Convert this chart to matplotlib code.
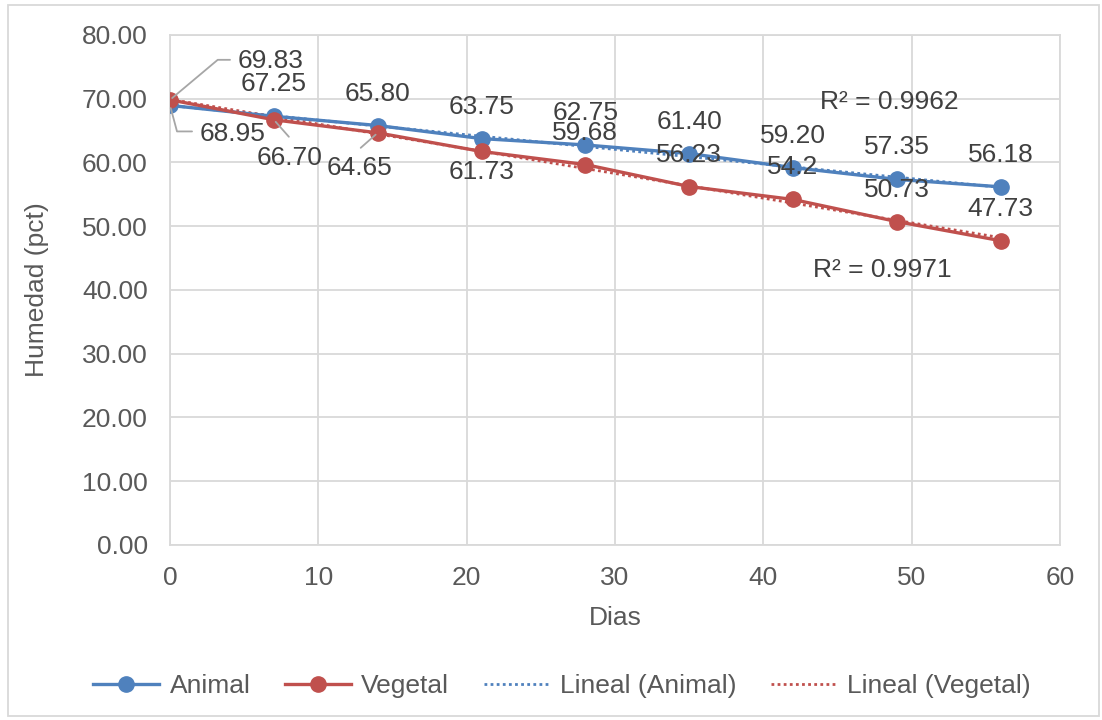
import matplotlib
matplotlib.use("Agg")
import matplotlib.pyplot as plt
import numpy as np
from matplotlib.patches import Rectangle

plt.rcParams["font.family"] = ["Liberation Sans", "DejaVu Sans"]

# ---------------------------------------------------------------------------
# Data
# ---------------------------------------------------------------------------

dias = [0, 7, 14, 21, 28, 35, 42, 49, 56]
animal = [68.95, 67.25, 65.80, 63.75, 62.75, 61.40, 59.20, 57.35, 56.18]
vegetal = [69.83, 66.70, 64.65, 61.73, 59.68, 56.23, 54.2, 50.73, 47.73]
animal_labels = ["68.95", "67.25", "65.80", "63.75", "62.75", "61.40", "59.20", "57.35", "56.18"]
vegetal_labels = ["69.83", "66.70", "64.65", "61.73", "59.68", "56.23", "54.2", "50.73", "47.73"]
r2_labels = ["R² = 0.9962", "R² = 0.9971"]

BLUE = "#4F81BD"
RED = "#C0504D"
GRID = "#D9D9D9"
TXT = "#404040"
TICK = "#595959"
LEADER = "#A6A6A6"

# label offsets in pixels (dx, dy), per point
animal_off = [(63, -29)] + [(0, 32)] * 8
vegetal_off = [(101, 39), (16, -38), (-18, -35), (0, -21)] + [(0, 32)] * 5

fig = plt.figure(figsize=(11.02, 7.2), dpi=100)
ax = fig.add_axes([0.1543, 0.2431, 0.8076, 0.7083])

ax.plot(dias, animal, color=BLUE, lw=2.4, marker="o", ms=11, label="Animal", zorder=4)
ax.plot(dias, vegetal, color=RED, lw=2.4, marker="o", ms=11, label="Vegetal", zorder=4)

# linear trendlines, fitted like Excel does
xs = np.array([dias[0], dias[-1]])
pa = np.polyfit(dias, animal, 1)
pv = np.polyfit(dias, vegetal, 1)
ax.plot(xs, np.polyval(pa, xs), color=BLUE, lw=2, ls=(0, (1, 1.2)), label="Lineal (Animal)", zorder=3)
ax.plot(xs, np.polyval(pv, xs), color=RED, lw=2, ls=(0, (1, 1.2)), label="Lineal (Vegetal)", zorder=3)

# data labels
for x, y, lab, off in zip(dias, animal, animal_labels, animal_off):
    ax.annotate(lab, (x, y), xytext=off, textcoords="offset pixels",
                ha="center", va="center", fontsize=19, color=TXT, zorder=6)
for x, y, lab, off in zip(dias, vegetal, vegetal_labels, vegetal_off):
    ax.annotate(lab, (x, y), xytext=off, textcoords="offset pixels",
                ha="center", va="center", fontsize=19, color=TXT, zorder=6)

# leader lines
def leader(x, y, tx, ty, conn):
    ax.annotate("", (x, y), xytext=(tx, ty), textcoords="offset pixels",
                arrowprops=dict(arrowstyle="-", color=LEADER, lw=1.3,
                                shrinkA=0, shrinkB=2, connectionstyle=conn),
                zorder=5)

leader(dias[0], vegetal[0], 60, 40, "angle,angleA=0,angleB=40,rad=0")
leader(dias[0], animal[0], 22, -26, "angle,angleA=0,angleB=105,rad=0")
leader(dias[1], vegetal[1], 15, -17, "arc3")
leader(dias[2], vegetal[2], -17, -15, "arc3")

# R² texts
ax.text(48.5, 69.5, r2_labels[0], ha="center", va="center", fontsize=19, color=TXT)
ax.text(48.0, 43.1, r2_labels[1], ha="center", va="center", fontsize=19, color=TXT)

ax.set_xlim(0, 60)
ax.set_ylim(0, 80)
ax.set_xticks(np.arange(0, 61, 10))
ax.set_yticks(np.arange(0, 81, 10))
ax.set_yticklabels([f"{v:.2f}" for v in np.arange(0, 81, 10)])
ax.tick_params(length=0, labelsize=19, colors=TICK)
ax.tick_params(axis="y", pad=16)
ax.tick_params(axis="x", pad=15)
ax.grid(True, color=GRID, lw=1.3)
ax.set_axisbelow(True)
for s in ax.spines.values():
    s.set_color(GRID)
    s.set_linewidth(1.3)

ax.set_xlabel("Dias", fontsize=19, color=TICK, labelpad=12)
ax.set_ylabel("Humedad (pct)", fontsize=19, color=TICK, labelpad=24)

fig.legend(loc="center", bbox_to_anchor=(0.51, 0.047), ncol=4, frameon=False,
           fontsize=19, handlelength=2.5, handletextpad=0.4, columnspacing=1.3,
           labelcolor=TICK)

fig.patches.append(Rectangle((0.007, 0.006), 0.99, 0.987, transform=fig.transFigure,
                             fill=False, edgecolor=GRID, lw=1.3))

fig.savefig("out.png", dpi=100)
